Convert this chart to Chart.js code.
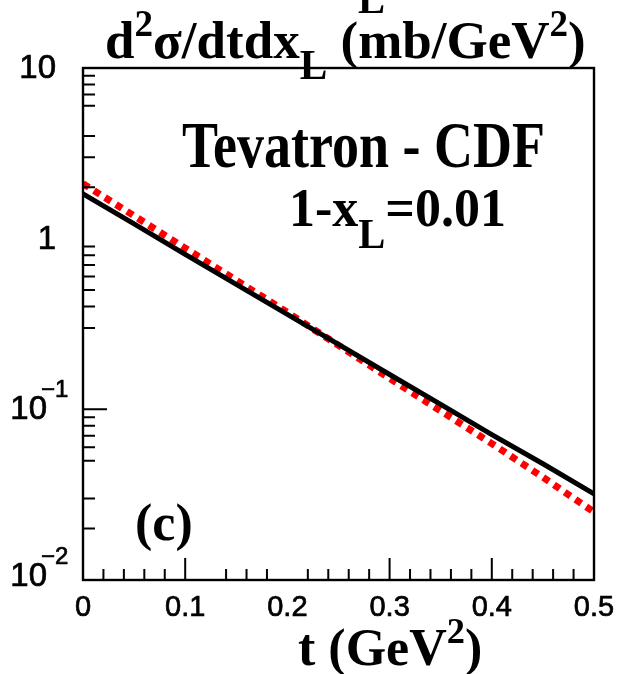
<!DOCTYPE html>
<html><head><meta charset="utf-8">
<script src="https://cdn.jsdelivr.net/npm/chart.js@4.4.1/dist/chart.umd.min.js"></script>
<style>html,body{margin:0;padding:0;background:#fff;overflow:hidden}#c{display:block}</style>
</head><body>
<canvas id="c" width="621" height="674"></canvas>
<script>
// ---- data ----
const tValues   = [0, 0.05, 0.10, 0.15, 0.20, 0.25, 0.30, 0.35, 0.40, 0.45, 0.50];
const blackCurve = [1.83, 1.22, 0.81, 0.54, 0.36, 0.24, 0.16, 0.107, 0.071, 0.048, 0.032];
const redCurve   = [2.10, 1.36, 0.88, 0.57, 0.37, 0.237, 0.152, 0.098, 0.063, 0.040, 0.025];

const xTickValues = [0, 0.1, 0.2, 0.3, 0.4, 0.5];
const xTickLabels = ['0', '0.1', '0.2', '0.3', '0.4', '0.5'];
const xMajorTicks = [0.1, 0.3, 0.4];
const xMinorTicks = [0.02, 0.04, 0.06, 0.08, 0.14, 0.16, 0.18, 0.22, 0.24, 0.26, 0.28,
                     0.32, 0.34, 0.36, 0.38, 0.42, 0.44, 0.46, 0.48];

const yTickValues = [10, 1, 0.1, 0.01];
const yTickBase   = ['10', '1', '10', '10'];
const yTickExp    = ['', '', '\u22121', '\u22122'];
const yMajorTicks = [0.1];
const yMinorTicks = [2, 3, 4, 6, 7, 8, 9, 0.3, 0.4, 0.5, 0.6, 0.7, 0.8, 0.9,
                     0.02, 0.03, 0.05, 0.06, 0.07, 0.08, 0.09];

const SERIF = '"Liberation Serif", "Times New Roman", serif';
const SANS  = '"Liberation Sans", Arial, sans-serif';

function rich(ctx, parts, x, y, size, sy, align) {
  ctx.save();
  ctx.translate(x, y);
  ctx.scale(1, sy);
  ctx.textBaseline = 'alphabetic';
  ctx.textAlign = 'left';
  let w = 0;
  const m = parts.map(p => {
    const s = p.sup ? size * 0.7 : (p.sub ? size * 0.78 : size);
    ctx.font = 'bold ' + s + 'px ' + SERIF;
    const pw = ctx.measureText(p.t).width;
    w += pw;
    return {p, s, pw};
  });
  let cx = align === 'center' ? -w / 2 : 0;
  for (const {p, s, pw} of m) {
    ctx.font = 'bold ' + s + 'px ' + SERIF;
    let dy = 0;
    if (p.sup) dy = -size * 0.42;
    if (p.sub) dy = size * 0.4;
    ctx.fillText(p.t, cx, dy);
    cx += pw;
  }
  ctx.restore();
}

function label(ctx, s, x, y) {
  ctx.fillText(s, x, y);
  ctx.strokeText(s, x, y);
}

const decor = {
  id: 'decor',
  afterDraw(chart) {
    const ctx = chart.ctx;
    const a = chart.chartArea;
    const xs = chart.scales.x, ys = chart.scales.y;
    ctx.save();
    ctx.fillStyle = '#000';
    ctx.strokeStyle = '#000';
    // frame
    ctx.lineWidth = 2.4;
    ctx.strokeRect(a.left, a.top, a.right - a.left, a.bottom - a.top);
    // ticks
    ctx.lineWidth = 2;
    ctx.beginPath();
    xMinorTicks.forEach(v => { const px = xs.getPixelForValue(v); ctx.moveTo(px, a.bottom); ctx.lineTo(px, a.bottom - 11); });
    xMajorTicks.forEach(v => { const px = xs.getPixelForValue(v); ctx.moveTo(px, a.bottom); ctx.lineTo(px, a.bottom - 22); });
    yMinorTicks.forEach(v => { const py = ys.getPixelForValue(v); ctx.moveTo(a.left, py); ctx.lineTo(a.left + 12, py); });
    yMajorTicks.forEach(v => { const py = ys.getPixelForValue(v); ctx.moveTo(a.left, py); ctx.lineTo(a.left + 24, py); });
    ctx.stroke();
    // tick labels (slightly heavier than regular)
    ctx.lineWidth = 0.7;
    ctx.font = '29px ' + SANS;
    ctx.textAlign = 'center';
    ctx.textBaseline = 'middle';
    xTickValues.forEach((v, i) => label(ctx, xTickLabels[i], xs.getPixelForValue(v), a.bottom + 28));
    yTickValues.forEach((v, i) => {
      const py = Math.min(ys.getPixelForValue(v) + 1, a.bottom - 3);
      ctx.textBaseline = 'middle';
      if (yTickExp[i]) {
        ctx.font = '33px ' + SANS;
        ctx.textAlign = 'right';
        label(ctx, yTickBase[i], 47, py);
        ctx.font = '24px ' + SANS;
        ctx.textAlign = 'left';
        ctx.textBaseline = 'alphabetic';
        label(ctx, yTickExp[i], 41, py - 13);
      } else {
        ctx.font = '33px ' + SANS;
        ctx.textAlign = 'right';
        label(ctx, yTickBase[i], 56, py);
      }
    });
    // texts
    rich(ctx, [{t: 'L', sub: true}], 358, -8, 52, 1, 'left');
    rich(ctx, [{t: 'd'}, {t: '2', sup: true}, {t: '\u03c3/dtdx'}, {t: 'L', sub: true},
               {t: ' (mb/GeV'}, {t: '2', sup: true}, {t: ')'}], 105, 58, 53, 1, 'left');
    rich(ctx, [{t: 'Tevatron - CDF'}], 182, 167, 54, 1.22, 'left');
    rich(ctx, [{t: '1-x'}, {t: 'L', sub: true}, {t: '=0.01'}], 289, 226, 52, 1.05, 'left');
    rich(ctx, [{t: '(c)'}], 135, 540, 52, 1, 'left');
    rich(ctx, [{t: 't (GeV'}, {t: '2', sup: true}, {t: ')'}], 298, 665, 52, 1, 'left');
    ctx.restore();
  }
};

new Chart(document.getElementById('c'), {
  type: 'line',
  data: {
    datasets: [
      { label: 'black', data: tValues.map((t, i) => ({x: t, y: blackCurve[i]})),
        borderColor: '#000', borderWidth: 5, pointRadius: 0, tension: 0, fill: false },
      { label: 'red', data: tValues.map((t, i) => ({x: t, y: redCurve[i]})),
        borderColor: '#ff0000', borderWidth: 7, borderDash: [7, 6], borderCapStyle: 'butt',
        pointRadius: 0, tension: 0, fill: false }
    ]
  },
  options: {
    responsive: false,
    animation: false,
    devicePixelRatio: 1,
    layout: { padding: { left: 83, right: 27, top: 68, bottom: 94 } },
    plugins: { legend: { display: false }, tooltip: { enabled: false }, title: { display: false } },
    scales: {
      x: { type: 'linear', min: 0, max: 0.5, display: false },
      y: { type: 'logarithmic', min: 0.01, max: 10, display: false }
    }
  },
  plugins: [decor]
});
</script>
</body></html>
